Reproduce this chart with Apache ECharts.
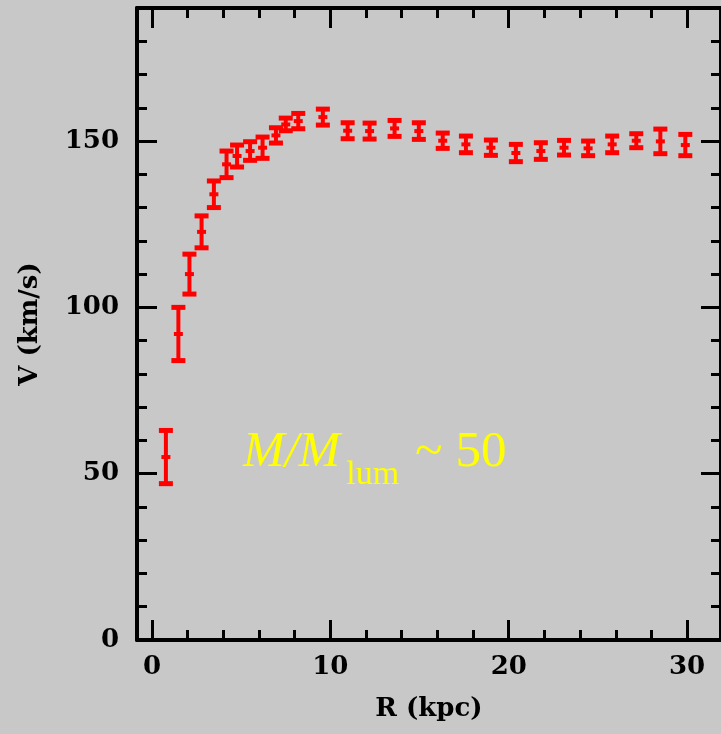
<!DOCTYPE html>
<html>
<head>
<meta charset="utf-8">
<script src="https://cdn.jsdelivr.net/npm/echarts@6/dist/echarts.min.js"></script>
<style>
  html, body { margin: 0; padding: 0; background: #c8c8c8; }
  #chart { width: 721px; height: 734px; }
</style>
</head>
<body>
<div id="chart"></div>
<script>
// rotation curve: radius (kpc), velocity (km/s), error (km/s)
var radius = [0.78, 1.48, 2.1, 2.78, 3.47, 4.18, 4.77, 5.5, 6.2, 6.95, 7.5, 8.2, 9.58,
  10.97, 12.2, 13.6, 14.96, 16.3, 17.6, 19.0, 20.4, 21.8, 23.1, 24.45, 25.8, 27.15, 28.5, 29.9];
var velocity = [55, 92, 110, 122.7, 134, 143, 145.5, 147, 148, 151.7, 155, 156, 157.2,
  153.1, 153, 153.8, 153, 150.1, 149, 148, 146.4, 147, 148, 147.8, 149, 150.1, 149.9, 148.8];
var errors = [8, 8, 6, 4.8, 4, 4, 3.3, 2.8, 3.2, 2.3, 1.9, 2.3, 2.4,
  2.4, 2.4, 2.4, 2.5, 2.3, 2.5, 2.3, 2.6, 2.5, 2.2, 2.2, 2.5, 2.1, 3.7, 3.2];

var xMajor = [0, 10, 20, 30];
var xMinor = [2, 4, 6, 8, 12, 14, 16, 18, 22, 24, 26, 28];
var yMajor = [0, 50, 100, 150];
var yMinor = [10, 20, 30, 40, 60, 70, 80, 90, 110, 120, 130, 140, 160, 170, 180];

var labelFont = { color: '#000', fontFamily: 'DejaVu Serif', fontWeight: 'bold', fontSize: 26 };
var X_MIN = -0.84, X_MAX = 31.9, Y_MIN = 0, Y_MAX = 190;

function xAxisDef(pos, ticks, len, withLine, withLabel) {
  return {
    type: 'value', position: pos, min: X_MIN, max: X_MAX,
    splitLine: { show: false },
    axisLine: { show: withLine, onZero: false, lineStyle: { color: '#000', width: 4 } },
    axisTick: { show: true, inside: true, length: len, customValues: ticks,
      lineStyle: { color: '#000', width: 3 } },
    axisLabel: withLabel ? Object.assign({ show: true, margin: 14, customValues: ticks }, labelFont)
                         : { show: false }
  };
}
function yAxisDef(pos, ticks, len, withLine, withLabel) {
  return {
    type: 'value', position: pos, min: Y_MIN, max: Y_MAX,
    splitLine: { show: false },
    axisLine: { show: withLine, onZero: false, lineStyle: { color: '#000', width: 4 } },
    axisTick: { show: true, inside: true, length: len, customValues: ticks,
      lineStyle: { color: '#000', width: 3 } },
    axisLabel: withLabel ? Object.assign({ show: true, margin: 18, customValues: ticks }, labelFont)
                         : { show: false }
  };
}

var xMain = xAxisDef('bottom', xMajor, 20, true, true);
xMain.name = 'R (kpc)';
xMain.nameLocation = 'middle';
xMain.nameGap = 56;
xMain.nameTextStyle = Object.assign({}, labelFont);

var yMain = yAxisDef('left', yMajor, 20, true, true);
yMain.name = 'V (km/s)';
yMain.nameLocation = 'middle';
yMain.nameGap = 94;
yMain.nameTextStyle = Object.assign({}, labelFont);

function renderErrorBar(params, api) {
  var x = api.value(0), v = api.value(1), e = api.value(2);
  var hi = api.coord([x, v + e]);
  var lo = api.coord([x, v - e]);
  var mid = api.coord([x, v]);
  var cap = 7;
  var stem = { stroke: '#ff0000', lineWidth: 4 };
  var capSt = { stroke: '#ff0000', lineWidth: 5 };
  return {
    type: 'group',
    children: [
      { type: 'line', shape: { x1: hi[0], y1: hi[1], x2: lo[0], y2: lo[1] }, style: stem },
      { type: 'line', shape: { x1: hi[0] - cap, y1: hi[1], x2: hi[0] + cap, y2: hi[1] }, style: capSt },
      { type: 'line', shape: { x1: lo[0] - cap, y1: lo[1], x2: lo[0] + cap, y2: lo[1] }, style: capSt },
      { type: 'rect', shape: { x: mid[0] - 4.5, y: mid[1] - 2, width: 9, height: 4 }, style: { fill: '#ff0000' } }
    ]
  };
}

var chart = echarts.init(document.getElementById('chart'));
chart.setOption({
  backgroundColor: '#c8c8c8',
  animation: false,
  grid: { left: 137, right: 0, top: 8, bottom: 94 },
  xAxis: [
    xMain,
    xAxisDef('bottom', xMinor, 10, false, false),
    xAxisDef('top', xMajor, 20, true, false),
    xAxisDef('top', xMinor, 10, false, false)
  ],
  yAxis: [
    yMain,
    yAxisDef('left', yMinor, 10, false, false),
    yAxisDef('right', yMajor, 20, true, false),
    yAxisDef('right', yMinor, 10, false, false)
  ],
  graphic: [{
    type: 'text',
    left: 243,
    top: 427,
    style: {
      text: '{a|M/M}{b|lum}{c|~ 50}',
      rich: {
        a: { fontFamily: 'Liberation Serif', fontStyle: 'italic', fontSize: 50, fill: '#ffff00', lineHeight: 80 },
        b: { fontFamily: 'Liberation Serif', fontSize: 34, fill: '#ffff00', lineHeight: 43,
          verticalAlign: 'bottom', padding: [0, 0, 0, 6] },
        c: { fontFamily: 'Liberation Serif', fontSize: 51, fill: '#ffff00', lineHeight: 80, padding: [0, 0, 0, 16] }
      }
    }
  }],
  series: [{
    type: 'custom',
    xAxisIndex: 0,
    yAxisIndex: 0,
    renderItem: renderErrorBar,
    encode: { x: 0, y: 1 },
    data: radius.map(function (r, i) { return [r, velocity[i], errors[i]]; })
  }]
});
</script>
</body>
</html>
